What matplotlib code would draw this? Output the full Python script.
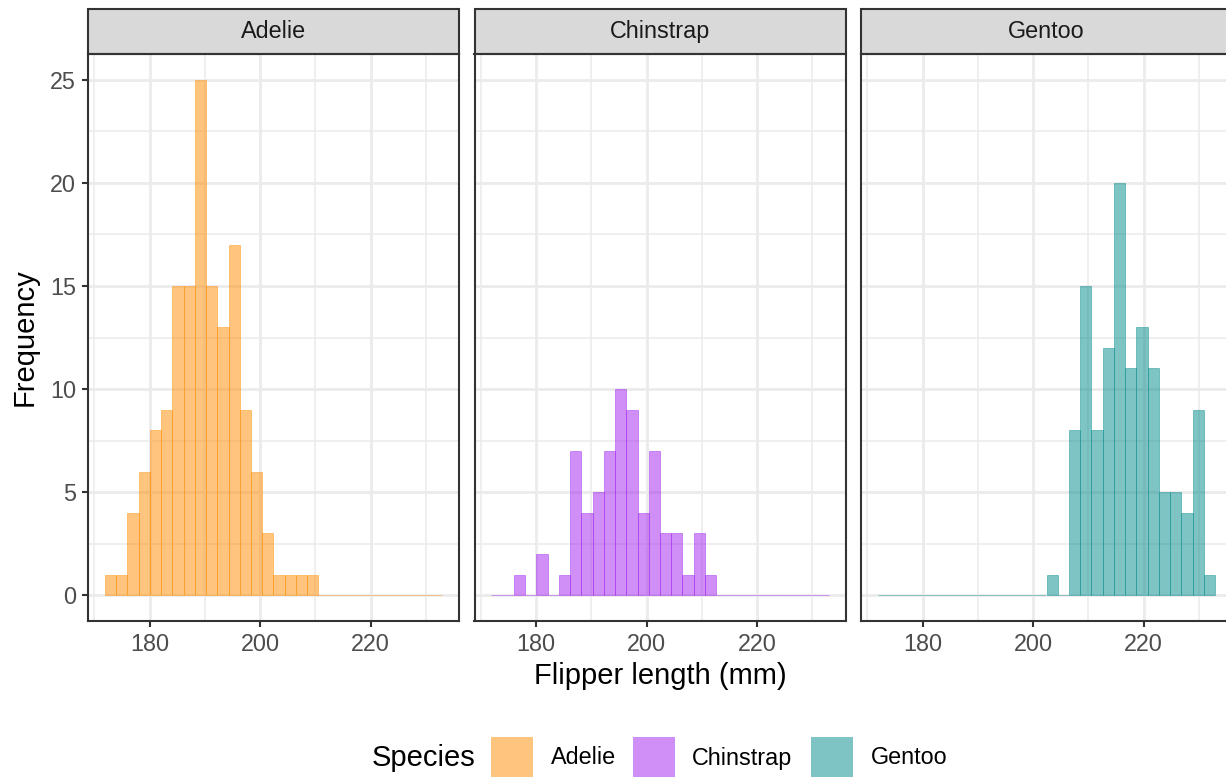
import numpy as np
import matplotlib
matplotlib.use("Agg")
import matplotlib.pyplot as plt
from matplotlib.colors import to_rgba
from matplotlib.patches import Rectangle
from matplotlib.ticker import MultipleLocator

plt.rcParams["font.family"] = ["Liberation Sans", "DejaVu Sans"]

# histogram setup (ggplot default: 30 bins over the observed range)
FLIPPER_MIN = 172
FLIPPER_MAX = 231
N_BINS = 30

species = ["Adelie", "Chinstrap", "Gentoo"]
colors = ["#FF8C00", "#A020F0", "#008B8B"]

# counts per bin
adelie_counts = [1, 1, 4, 6, 8, 9, 15, 15, 25, 15, 13, 17, 9, 6, 3,
                 1, 1, 1, 1, 0, 0, 0, 0, 0, 0, 0, 0, 0, 0, 0]
chinstrap_counts = [0, 0, 1, 0, 2, 0, 1, 7, 4, 5, 7, 10, 9, 4, 7,
                    3, 3, 1, 3, 1, 0, 0, 0, 0, 0, 0, 0, 0, 0, 0]
gentoo_counts = [0, 0, 0, 0, 0, 0, 0, 0, 0, 0, 0, 0, 0, 0, 0,
                 1, 0, 8, 15, 8, 12, 20, 11, 13, 11, 5, 5, 4, 9, 1]
counts = [adelie_counts, chinstrap_counts, gentoo_counts]

x_ticks = [180, 200, 220]
y_ticks = [0, 5, 10, 15, 20, 25]

W, H = 1226, 777


def bin_edges(lo, hi, bins):
    width = (hi - lo) / (bins - 1)
    boundary = width / 2
    shift = np.floor((lo - boundary) / width)
    origin = boundary + shift * width
    return origin + width * np.arange(bins + 1), width


def main() -> None:
    edges, bw = bin_edges(FLIPPER_MIN, FLIPPER_MAX, N_BINS)
    xpad = 0.05 * (edges[-1] - edges[0])
    ymax = max(max(c) for c in counts)

    fig = plt.figure(figsize=(W / 100, H / 100), dpi=100)
    panel_top, panel_bot = 54, 621
    strip_h = 45
    for i, (name, col, cnt) in enumerate(zip(species, colors, counts)):
        left = 88 + i * 386.5
        ax = fig.add_axes([left / W, 1 - panel_bot / H, 371 / W, (panel_bot - panel_top) / H])
        # outline and fill share the same alpha, so shared edges read darker
        ax.bar(edges[:-1], cnt, width=bw, align="edge",
               facecolor=to_rgba(col, 0.5), edgecolor=to_rgba(col, 0.5),
               linewidth=0.6, zorder=3)
        ax.set_xlim(edges[0] - xpad, edges[-1] + xpad)
        ax.set_ylim(-0.05 * ymax, 1.05 * ymax)
        ax.set_xticks(x_ticks)
        ax.xaxis.set_minor_locator(MultipleLocator(10))
        ax.set_yticks(y_ticks)
        ax.yaxis.set_minor_locator(MultipleLocator(2.5))
        ax.grid(which="major", color="#EBEBEB", linewidth=2.0, zorder=0)
        ax.grid(which="minor", color="#EBEBEB", linewidth=1.1, zorder=0)
        ax.set_axisbelow(True)
        for s in ax.spines.values():
            s.set_color("#333333")
            s.set_linewidth(1.5)
            s.set_zorder(5)
        ax.tick_params(which="major", length=4.5, width=1.5, color="#333333",
                       labelsize=16.8, labelcolor="#4D4D4D", pad=4)
        ax.tick_params(which="minor", length=0)
        if i > 0:
            ax.tick_params(axis="y", which="both", left=False, labelleft=False)

        strip = Rectangle((0, 1), 1, strip_h / (panel_bot - panel_top), transform=ax.transAxes,
                          facecolor="#D9D9D9", edgecolor="#333333", linewidth=1.5, clip_on=False)
        ax.add_patch(strip)
        ax.text(0.5, 1 + strip_h / 2 / (panel_bot - panel_top), name, transform=ax.transAxes,
                ha="center", va="center", fontsize=16.8, color="#1A1A1A")

    fig.text(660 / W, 1 - 676 / H, "Flipper length (mm)", ha="center", va="center", fontsize=21)
    fig.text(25 / W, 1 - 337 / H, "Frequency", ha="center", va="center", rotation=90, fontsize=21)

    # legend
    ly = 758
    fig.text(372 / W, 1 - ly / H, "Species", ha="left", va="center", fontsize=21)
    box_x = [491, 633, 811]
    text_x = [551, 692, 871]
    for name, col, bx, tx in zip(species, colors, box_x, text_x):
        fig.add_artist(Rectangle((bx / W, 1 - 779 / H), 42 / W, 42 / H, transform=fig.transFigure,
                                 facecolor=to_rgba(col, 0.5), edgecolor="none"))
        fig.text(tx / W, 1 - ly / H, name, ha="left", va="center", fontsize=16.8)

    fig.savefig("out.png", dpi=100)


if __name__ == "__main__":
    main()
